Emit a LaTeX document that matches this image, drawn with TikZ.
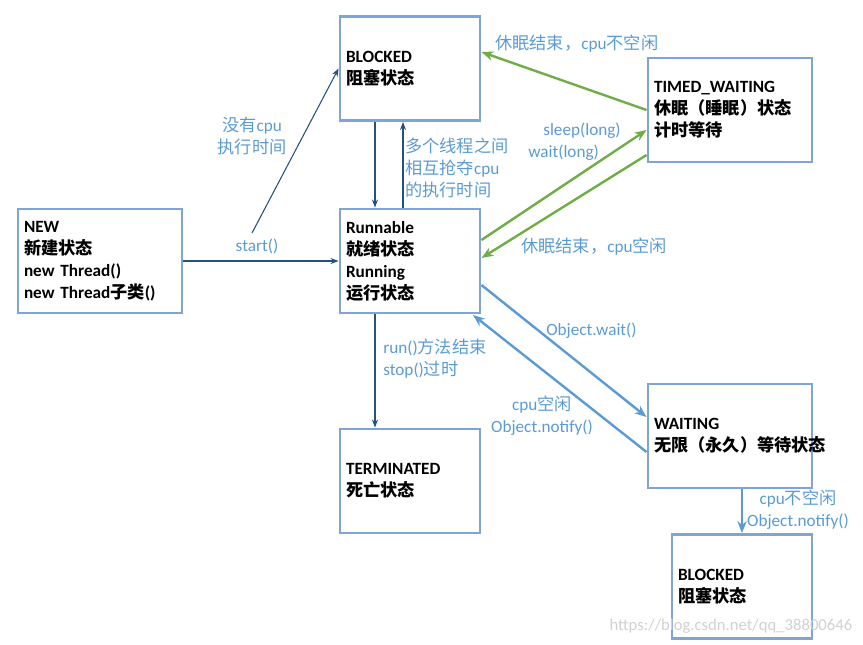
\documentclass[tikz,border=0pt]{standalone}
\usepackage{fontspec}
\setmainfont{Carlito}
\newfontfamily\cjk{Noto Sans CJK SC}
\newcommand{\zh}[1]{{\cjk #1}}
\usetikzlibrary{arrows.meta}

\definecolor{boxblue}{RGB}{126,165,214}
\definecolor{lblblue}{RGB}{91,155,213}
\definecolor{darkblue}{RGB}{38,80,130}
\definecolor{arrgreen}{RGB}{112,173,71}

\tikzset{
  state/.style={draw=boxblue, line width=2.2pt, minimum height=78pt, inner xsep=4.5pt, align=left,
    font=\bfseries\fontsize{12.9}{16.5}\selectfont},
  smallstate/.style={state, minimum width=105pt, text width=96pt},
  widestate/.style={state, minimum width=123pt, text width=114pt},
  lbl/.style={text=lblblue, inner sep=0.75pt, font=\fontsize{12.9}{16.5}\selectfont},
  thinarr/.style={draw=darkblue, line width=0.8pt, -{Stealth[length=6pt,width=4.5pt]}},
  greenarr/.style={draw=arrgreen, line width=1.8pt, -{Stealth[length=9pt,width=7pt]}},
  bluearr/.style={draw=lblblue, line width=1.8pt, -{Stealth[length=9pt,width=7pt]}},
}

\begin{document}
\begin{tikzpicture}[x=0.75pt,y=0.75pt,yscale=-1,xscale=1]
\useasboundingbox (0,0) rectangle (863,644);

%Shape: States
\node[widestate] (new) at (100,261) {NEW\\\zh{新建状态}\\new Thread()\\new Thread\zh{子类}()};
\node[smallstate] (blk) at (410,68.5) {BLOCKED\\\zh{阻塞状态}};
\node[smallstate] (run) at (410,261) {Runnable\\\zh{就绪状态}\\Running\\\zh{运行状态}};
\node[widestate] (tw) at (730,110) {TIMED\_WAITING\\\zh{休眠（睡眠）状态}\\\zh{计时等待}};
\node[smallstate] (term) at (410,481) {TERMINATED\\\zh{死亡状态}};
\node[widestate] (wait) at (730,436) {WAITING\\\zh{无限（永久）等待状态}};
\node[smallstate] (blk2) at (742,586.5) {BLOCKED\\\zh{阻塞状态}};

%Connectors: dark blue
\coordinate (nocpu) at (252,233);
\draw[thinarr] (new) -- (run);
\draw[thinarr] (nocpu) -- (blk.west);
\draw[thinarr] (blk.south -| 375,0) -- (run.north -| 375,0);
\draw[thinarr] (run.north -| 403,0) -- (blk.south -| 403,0);
\draw[thinarr] (run.south -| 375,0) -- (term.north -| 375,0);

%Connectors: green
\draw[greenarr] (tw.west) -- (blk.east |- 0,52);
\draw[greenarr] (run.east |- 0,240) -- (tw.west |- 0,130);
\draw[greenarr] (tw.west |- 0,155) -- (run.east |- 0,258);

%Connectors: light blue
\draw[bluearr] (run.east |- 0,285) -- (wait.west |- 0,417);
\draw[bluearr] (wait.west |- 0,452) -- (473,315);
\draw[bluearr] (wait.south -| 742,0) -- (blk2.north);

% Text Node
\node[lbl] (lstart) at (257,246) {start()};
\node[lbl, align=center] (lnocpu) at (252,136) {\zh{没有}cpu\\\zh{执行时间}};
\node[lbl, align=left, anchor=west] (lrob) at (404,168) {\zh{多个线程之间}\\\zh{相互抢夺}cpu\\\zh{的执行时间}};
\node[lbl, anchor=west] (lwake1) at (494,44) {\zh{休眠结束，}cpu\zh{不空闲}};
\node[lbl, align=left, anchor=west] (lsleep) at (527,142) {\hspace{11.25pt}sleep(long)\\wait(long)};
\node[lbl, anchor=west] (lwake2) at (520,247) {\zh{休眠结束，}cpu\zh{空闲}};
\node[lbl, anchor=west] (lowait) at (545,331) {Object.wait()};
\node[lbl, align=center] (lnotify) at (542,416) {cpu\zh{空闲}\\Object.notify()};
\node[lbl, align=left, anchor=west] (lend) at (382,359) {run()\zh{方法结束}\\stop()\zh{过时}};
\node[lbl, align=center] (lnotify2) at (798,510) {cpu\zh{不空闲}\\Object.notify()};

% Watermark
\node[text=black!18, font=\fontsize{12.5}{15}\selectfont, anchor=east] (wm) at (857,626) {https://blog.csdn.net/qq\_38800646};

\end{tikzpicture}
\end{document}
